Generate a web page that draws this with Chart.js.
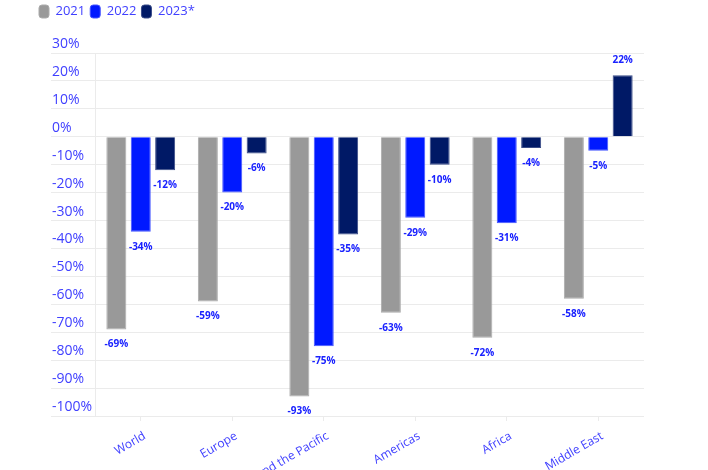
<!DOCTYPE html>
<html>
<head>
<meta charset="utf-8">
<script src="https://cdn.jsdelivr.net/npm/chart.js@4/dist/chart.umd.min.js"></script>
<style>
  html, body { margin: 0; padding: 0; background: #fff; }
  #wrap { width: 708px; height: 470px; }
</style>
</head>
<body>
<div id="wrap"><canvas id="tourismChart"></canvas></div>
<script>
var regions = ['World', 'Europe', 'Asia and the Pacific', 'Americas', 'Africa', 'Middle East'];
var values2021 = [-69, -59, -93, -63, -72, -58];
var values2022 = [-34, -20, -75, -29, -31, -5];
var values2023 = [-12, -6, -35, -10, -4, 22];
var yTicks = [30, 20, 10, 0, -10, -20, -30, -40, -50, -60, -70, -80, -90, -100];

var textBlue = '#4040ff';
var labelBlue = '#1a22ff';
var gridGrey = '#ebebeb';

// value labels under (or above) each bar
var barLabels = {
  id: 'barLabels',
  afterDatasetsDraw: function (chart) {
    var c = chart.ctx;
    c.save();
    c.font = 'bold 10px "Open Sans", sans-serif';
    c.fillStyle = labelBlue;
    c.textAlign = 'center';
    c.textBaseline = 'middle';
    chart.data.datasets.forEach(function (ds, i) {
      var meta = chart.getDatasetMeta(i);
      meta.data.forEach(function (bar, j) {
        var v = ds.data[j];
        var y = v < 0 ? bar.y + 15 : bar.y - 15;
        c.fillText(v + '%', bar.x, y);
      });
    });
    c.restore();
  }
};

new Chart(document.getElementById('tourismChart').getContext('2d'), {
  type: 'bar',
  data: {
    labels: regions,
    datasets: [{
      label: '2021',
      data: values2021,
      backgroundColor: '#999999',
      borderColor: '#ababab',
      borderWidth: 1
    }, {
      label: '2022',
      data: values2022,
      backgroundColor: '#0019ff',
      borderColor: '#4455ff',
      borderWidth: 1
    }, {
      label: '2023*',
      data: values2023,
      backgroundColor: '#001966',
      borderColor: '#3a4c88',
      borderWidth: 1
    }]
  },
  options: {
    responsive: true,
    maintainAspectRatio: false,
    animation: false,
    barPercentage: 0.82,
    categoryPercentage: 0.8,
    layout: {
      padding: { left: 34, right: 64, top: 0, bottom: 0 }
    },
    plugins: {
      legend: {
        position: 'top',
        align: 'start',
        labels: {
          color: textBlue,
          font: { family: '"Open Sans", sans-serif', size: 13 },
          boxWidth: 10,
          boxHeight: 13,
          useBorderRadius: true,
          borderRadius: 3,
          padding: 5
        }
      },
      title: {
        display: true,
        text: '',
        weight: 500,
        padding: { top: 6, bottom: 7 },
        font: { size: 10 }
      },
      tooltip: { enabled: false }
    },
    scales: {
      x: {
        afterFit: function (scale) { scale.height = 54; },
        grid: {
          display: true,
          drawOnChartArea: false,
          drawTicks: true,
          tickLength: 5,
          color: gridGrey,
          offset: false
        },
        border: { display: false },
        ticks: {
          color: textBlue,
          font: { family: '"Open Sans", sans-serif', size: 12 },
          minRotation: 30,
          maxRotation: 30,
          autoSkip: false,
          padding: 8,
          labelOffset: 4
        }
      },
      y: {
        min: -100,
        max: 30,
        afterFit: function (scale) { scale.width = 61; },
        afterBuildTicks: function (scale) {
          scale.ticks = yTicks.map(function (v) { return { value: v }; });
        },
        grid: {
          color: gridGrey,
          drawTicks: true,
          tickLength: 44
        },
        border: { display: true, color: gridGrey },
        ticks: {
          color: textBlue,
          font: { family: '"Open Sans", sans-serif', size: 14 },
          mirror: true,
          padding: -43,
          labelOffset: -9,
          callback: function (v) { return v + '%'; }
        }
      }
    }
  },
  plugins: [barLabels]
});
</script>
</body>
</html>
